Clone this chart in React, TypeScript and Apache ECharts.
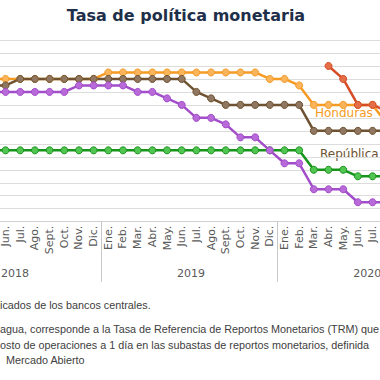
import React, { useEffect, useRef } from "react";
import * as echarts from "echarts";

const months = [
  "Ene.", "Feb.", "Mar.", "Abr.", "May.", "Jun.", "Jul.", "Ago.", "Sept.", "Oct.", "Nov.", "Dic.",
  "Ene.", "Feb.", "Mar.", "Abr.", "May.", "Jun.", "Jul.", "Ago.", "Sept.", "Oct.", "Nov.", "Dic.",
  "Ene.", "Feb.", "Mar.", "Abr.", "May.", "Jun.", "Jul.", "Ago.", "Sept.", "Oct.", "Nov.", "Dic.",
];
const years = ["2018", "2019", "2020"];

// Ene 2018 .. Ago 2020
const honduras = [
  5.5, 5.5, 5.5, 5.5, 5.5, 5.5, 5.5, 5.5, 5.5, 5.5, 5.5, 5.5,
  5.75, 5.75, 5.75, 5.75, 5.75, 5.75, 5.75, 5.75, 5.75, 5.75, 5.75, 5.5,
  5.5, 5.25, 4.5, 4.5, 4.5, 4.5, 4.5, 3.75,
];
const republicaDominicana = [
  5.25, 5.25, 5.25, 5.25, 5.25, 5.25, 5.5, 5.5, 5.5, 5.5, 5.5, 5.5,
  5.5, 5.5, 5.5, 5.5, 5.5, 5.5, 5.0, 4.75, 4.5, 4.5, 4.5, 4.5,
  4.5, 4.5, 3.5, 3.5, 3.5, 3.5, 3.5, 3.5,
];
const guatemala = [
  2.75, 2.75, 2.75, 2.75, 2.75, 2.75, 2.75, 2.75, 2.75, 2.75, 2.75, 2.75,
  2.75, 2.75, 2.75, 2.75, 2.75, 2.75, 2.75, 2.75, 2.75, 2.75, 2.75, 2.75,
  2.75, 2.75, 2.0, 2.0, 2.0, 1.75, 1.75, 1.75,
];
const costaRica = [
  5.0, 5.0, 5.0, 5.0, 5.0, 5.0, 5.0, 5.0, 5.0, 5.0, 5.25, 5.25,
  5.25, 5.25, 5.0, 5.0, 4.75, 4.5, 4.0, 4.0, 3.75, 3.25, 3.25, 2.75,
  2.25, 2.25, 1.25, 1.25, 1.25, 0.75, 0.75, 0.75,
];
const nicaragua = [
  null, null, null, null, null, null, null, null, null, null, null, null,
  null, null, null, null, null, null, null, null, null, null, null, null,
  null, null, null, 6.0, 5.5, 4.5, 4.5, 4.25,
];

const footnotes = [
  "icados de los bancos centrales.",
  "agua, corresponde a la Tasa de Referencia de Reportos Monetarios (TRM) que",
  "osto de operaciones a 1 día en las subastas de reportos monetarios, definida",
  "Mercado Abierto",
];

// the visible window is a crop of a wider chart
const OFFSET = 100;
const FULL_W = 640;

const mk = (name: string, data: (number | null)[], line: string, fill: string) => ({
  name,
  type: "line",
  data,
  xAxisIndex: 0,
  symbol: "circle",
  symbolSize: 7,
  showSymbol: true,
  lineStyle: { color: line, width: 2.5 },
  itemStyle: { color: fill, borderColor: line, borderWidth: 1 },
  connectNulls: false,
});

export default function App() {
  const ref = useRef<HTMLDivElement>(null);
  useEffect(() => {
    if (!ref.current) return;
    const chart = echarts.init(ref.current, null, { renderer: "svg" });
    chart.setOption({
      animation: false,
      backgroundColor: "#ffffff",
      grid: { left: OFFSET - 75.2, width: 528.5, top: 40, height: 181.7, containLabel: false },
      xAxis: [
        {
          type: "category",
          data: months,
          boundaryGap: true,
          axisLine: { show: true, lineStyle: { color: "#d0d0d0", width: 1 } },
          axisTick: { show: false },
          axisLabel: {
            rotate: 90,
            interval: 0,
            margin: 4,
            color: "#595959",
            fontFamily: "DejaVu Sans",
            fontSize: 11,
            formatter: (v: string, i: number) => (i >= 5 && i <= 30 ? v : ""),
          },
          splitLine: { show: false },
        },
        {
          type: "category",
          data: years,
          position: "bottom",
          boundaryGap: true,
          axisLine: { show: false },
          axisTick: { show: true, length: 60, lineStyle: { color: "#c8c8c8", width: 1 } },
          axisLabel: {
            margin: 46,
            color: "#595959",
            fontFamily: "DejaVu Sans",
            fontSize: 11,
            padding: [0, 0, 0, 4],
          },
          splitLine: { show: false },
        },
      ],
      yAxis: {
        type: "value",
        min: 0,
        max: 7,
        interval: 0.5,
        axisLine: { show: false },
        axisTick: { show: false },
        axisLabel: { show: false },
        splitLine: { lineStyle: { color: "#dcdcdc", width: 1 } },
      },
      series: [
        mk("Honduras", honduras, "#F59A23", "#F9B45C"),
        mk("República Dominicana", republicaDominicana, "#6E5231", "#8F7762"),
        mk("Guatemala", guatemala, "#17941B", "#52C452"),
        mk("Costa Rica", costaRica, "#A24DC9", "#B96AD9"),
        mk("Nicaragua", nicaragua, "#D64C27", "#E36E48"),
      ],
      graphic: [
        {
          type: "text",
          x: OFFSET + 186,
          y: 15,
          style: {
            text: "Tasa de política monetaria",
            fill: "#1F2F4A",
            font: "bold 16px 'DejaVu Sans'",
            textAlign: "center",
            textVerticalAlign: "middle",
          },
        },
        {
          type: "text",
          x: OFFSET + 315,
          y: 113,
          style: {
            text: "Honduras",
            fill: "#F59A23",
            font: "12px 'DejaVu Sans'",
            textAlign: "left",
            textVerticalAlign: "middle",
          },
        },
        {
          type: "text",
          x: OFFSET + 320,
          y: 154,
          style: {
            text: "República",
            fill: "#6E5231",
            font: "12px 'DejaVu Sans'",
            textAlign: "left",
            textVerticalAlign: "middle",
          },
        },
        ...footnotes.map((t, i) => ({
          type: "text",
          x: OFFSET + (i === 3 ? 6 : 0),
          y: [305, 329, 344.5, 360][i],
          style: {
            text: t,
            fill: "#404040",
            font: "10.8px 'Liberation Sans'",
            textAlign: "left",
            textVerticalAlign: "middle",
          },
        })),
      ],
    });
    return () => chart.dispose();
  }, []);
  return (
    <div style={{ position: "fixed", left: 0, top: 0, width: 380, height: 380, overflow: "hidden", background: "#fff" }}>
      <div
        ref={ref}
        style={{ position: "absolute", left: -OFFSET, top: 0, width: FULL_W, height: 380 }}
      />
    </div>
  );
}
